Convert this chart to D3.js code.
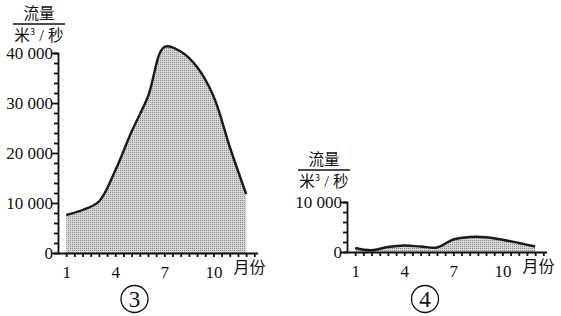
<!DOCTYPE html>
<html>
<head>
<meta charset="utf-8">
<script src="https://cdn.jsdelivr.net/npm/d3@7"></script>
<style>
  body { margin: 0; background: #fff; }
  svg { display: block; }
</style>
</head>
<body>
<svg id="chart" width="561" height="316"></svg>
<script>
"use strict";

// Data
var months = [1, 2, 3, 4, 5, 6, 7, 8, 9, 10, 11, 12];
var flow3 = [7600, 8600, 10300, 16500, 24300, 31300, 41200, 40300, 37200, 31400, 21200, 11800];
var flow4 = [800, 350, 1000, 1300, 1100, 900, 2500, 3000, 2950, 2450, 1800, 1100];
var xTickLabels = [1, 4, 7, 10];
var yTicks3 = [0, 10000, 20000, 30000, 40000];
var yTicks4 = [0, 10000];
var titleTop = "流量";
var titleBottom = "秒";
var xUnit = "月份";

var serif = "Liberation Serif, DejaVu Serif, Noto Serif, Times, serif";
var cjk = "Noto Sans CJK SC, sans-serif";

var svg = d3.select("#chart");

// stipple pattern for the area
var pat = svg.append("defs").append("pattern")
  .attr("id", "dots")
  .attr("width", 2).attr("height", 2)
  .attr("patternUnits", "userSpaceOnUse");
pat.append("rect").attr("width", 2).attr("height", 2).attr("fill", "#d6d6d6");
pat.append("rect").attr("width", 1).attr("height", 1).attr("fill", "#8c8c8c");

function fmt(v) {
  return d3.format(",")(v).replace(",", " ");
}

function drawChart(opt) {
  var x = d3.scaleLinear().domain([0.5, 12.7]).range([opt.left, opt.right]);
  var y = d3.scaleLinear().domain([0, opt.ymax]).range([opt.bottom, opt.top]);
  var g = svg.append("g");

  var area = d3.area()
    .x(function(d, i) { return x(months[i]); })
    .y0(y(0))
    .y1(function(d) { return y(d); })
    .curve(d3.curveCatmullRom.alpha(0.5));
  var line = d3.line()
    .x(function(d, i) { return x(months[i]); })
    .y(function(d) { return y(d); })
    .curve(d3.curveCatmullRom.alpha(0.5));

  g.append("path").attr("d", area(opt.values)).attr("fill", "url(#dots)");
  g.append("path").attr("d", line(opt.values))
    .attr("fill", "none").attr("stroke", "#1a1a1a")
    .attr("stroke-width", 2.4).attr("stroke-linejoin", "round");

  // x axis, ticks every half month
  var halfTicks = d3.range(1, 25).map(function(k) { return k / 2 + 0.5; });
  var xAxis = g.append("g")
    .attr("transform", "translate(0," + y(0) + ")")
    .call(d3.axisBottom(x).tickValues(halfTicks).tickSize(4).tickSizeOuter(0)
      .tickFormat(function(d) { return xTickLabels.indexOf(d) >= 0 ? d : ""; }));
  xAxis.selectAll("text").attr("dy", "1.05em");

  // y axis, minor ticks every 2000
  var minor = d3.range(0, opt.ymax + 1, 2000);
  var yAxis = g.append("g")
    .attr("transform", "translate(" + x(0.5) + ",0)")
    .call(d3.axisLeft(y).tickValues(minor).tickSizeOuter(0)
      .tickSize(4)
      .tickFormat(function(d) { return opt.yTicks.indexOf(d) >= 0 ? fmt(d) : ""; }));
  yAxis.selectAll(".tick").filter(function(d) { return opt.yTicks.indexOf(d) >= 0; })
    .select("line").attr("x2", -6);
  yAxis.selectAll("text").attr("x", -5).attr("dy", "0.34em");

  xAxis.attr("font-family", serif).attr("font-size", 17);
  yAxis.attr("font-family", serif).attr("font-size", 17);
  g.selectAll(".tick text").attr("font-family", serif).attr("fill", "#111");
  g.selectAll(".domain, .tick line").attr("stroke", "#111").attr("stroke-width", 1.8);

  // x unit
  g.append("text")
    .attr("font-family", cjk).attr("font-size", 16)
    .attr("x", opt.right - 24).attr("y", y(0) + 20)
    .attr("fill", "#111")
    .text(xUnit);

  // y title: 流量 over 米³/秒
  var tx = opt.titleX;
  g.append("text")
    .attr("font-family", cjk).attr("font-size", 15.5)
    .attr("x", tx).attr("y", opt.titleY)
    .attr("text-anchor", "middle")
    .attr("fill", "#111")
    .text(titleTop);
  g.append("line")
    .attr("x1", tx - 26).attr("x2", tx + 26)
    .attr("y1", opt.titleY + 5).attr("y2", opt.titleY + 5)
    .attr("stroke", "#111").attr("stroke-width", 1.4);
  var unit = g.append("text")
    .attr("font-family", cjk).attr("font-size", 15.5)
    .attr("x", tx).attr("y", opt.titleY + 22)
    .attr("text-anchor", "middle")
    .attr("fill", "#111");
  unit.append("tspan").text("米");
  unit.append("tspan").attr("font-size", 9).attr("dy", -6).text("3");
  unit.append("tspan").attr("dy", 6).attr("font-family", serif).attr("font-size", 17).text(" / ");
  unit.append("tspan").text(titleBottom);

  // circled number
  g.append("circle")
    .attr("cx", opt.markX).attr("cy", 299).attr("r", 13.5)
    .attr("fill", "none").attr("stroke", "#111").attr("stroke-width", 1.3);
  g.append("text")
    .attr("font-family", serif).attr("font-size", 23)
    .attr("x", opt.markX).attr("y", 299).attr("dy", "0.35em")
    .attr("text-anchor", "middle")
    .attr("fill", "#111")
    .text(opt.mark);
}

drawChart({ values: flow3, ymax: 40000, yTicks: yTicks3,
  left: 58, right: 257.6, bottom: 253, top: 53,
  titleX: 39, titleY: 19, markX: 134.5, mark: "3" });

drawChart({ values: flow4, ymax: 10000, yTicks: yTicks4,
  left: 347, right: 546.6, bottom: 252, top: 202,
  titleX: 324, titleY: 165, markX: 425, mark: "4" });
</script>
</body>
</html>
